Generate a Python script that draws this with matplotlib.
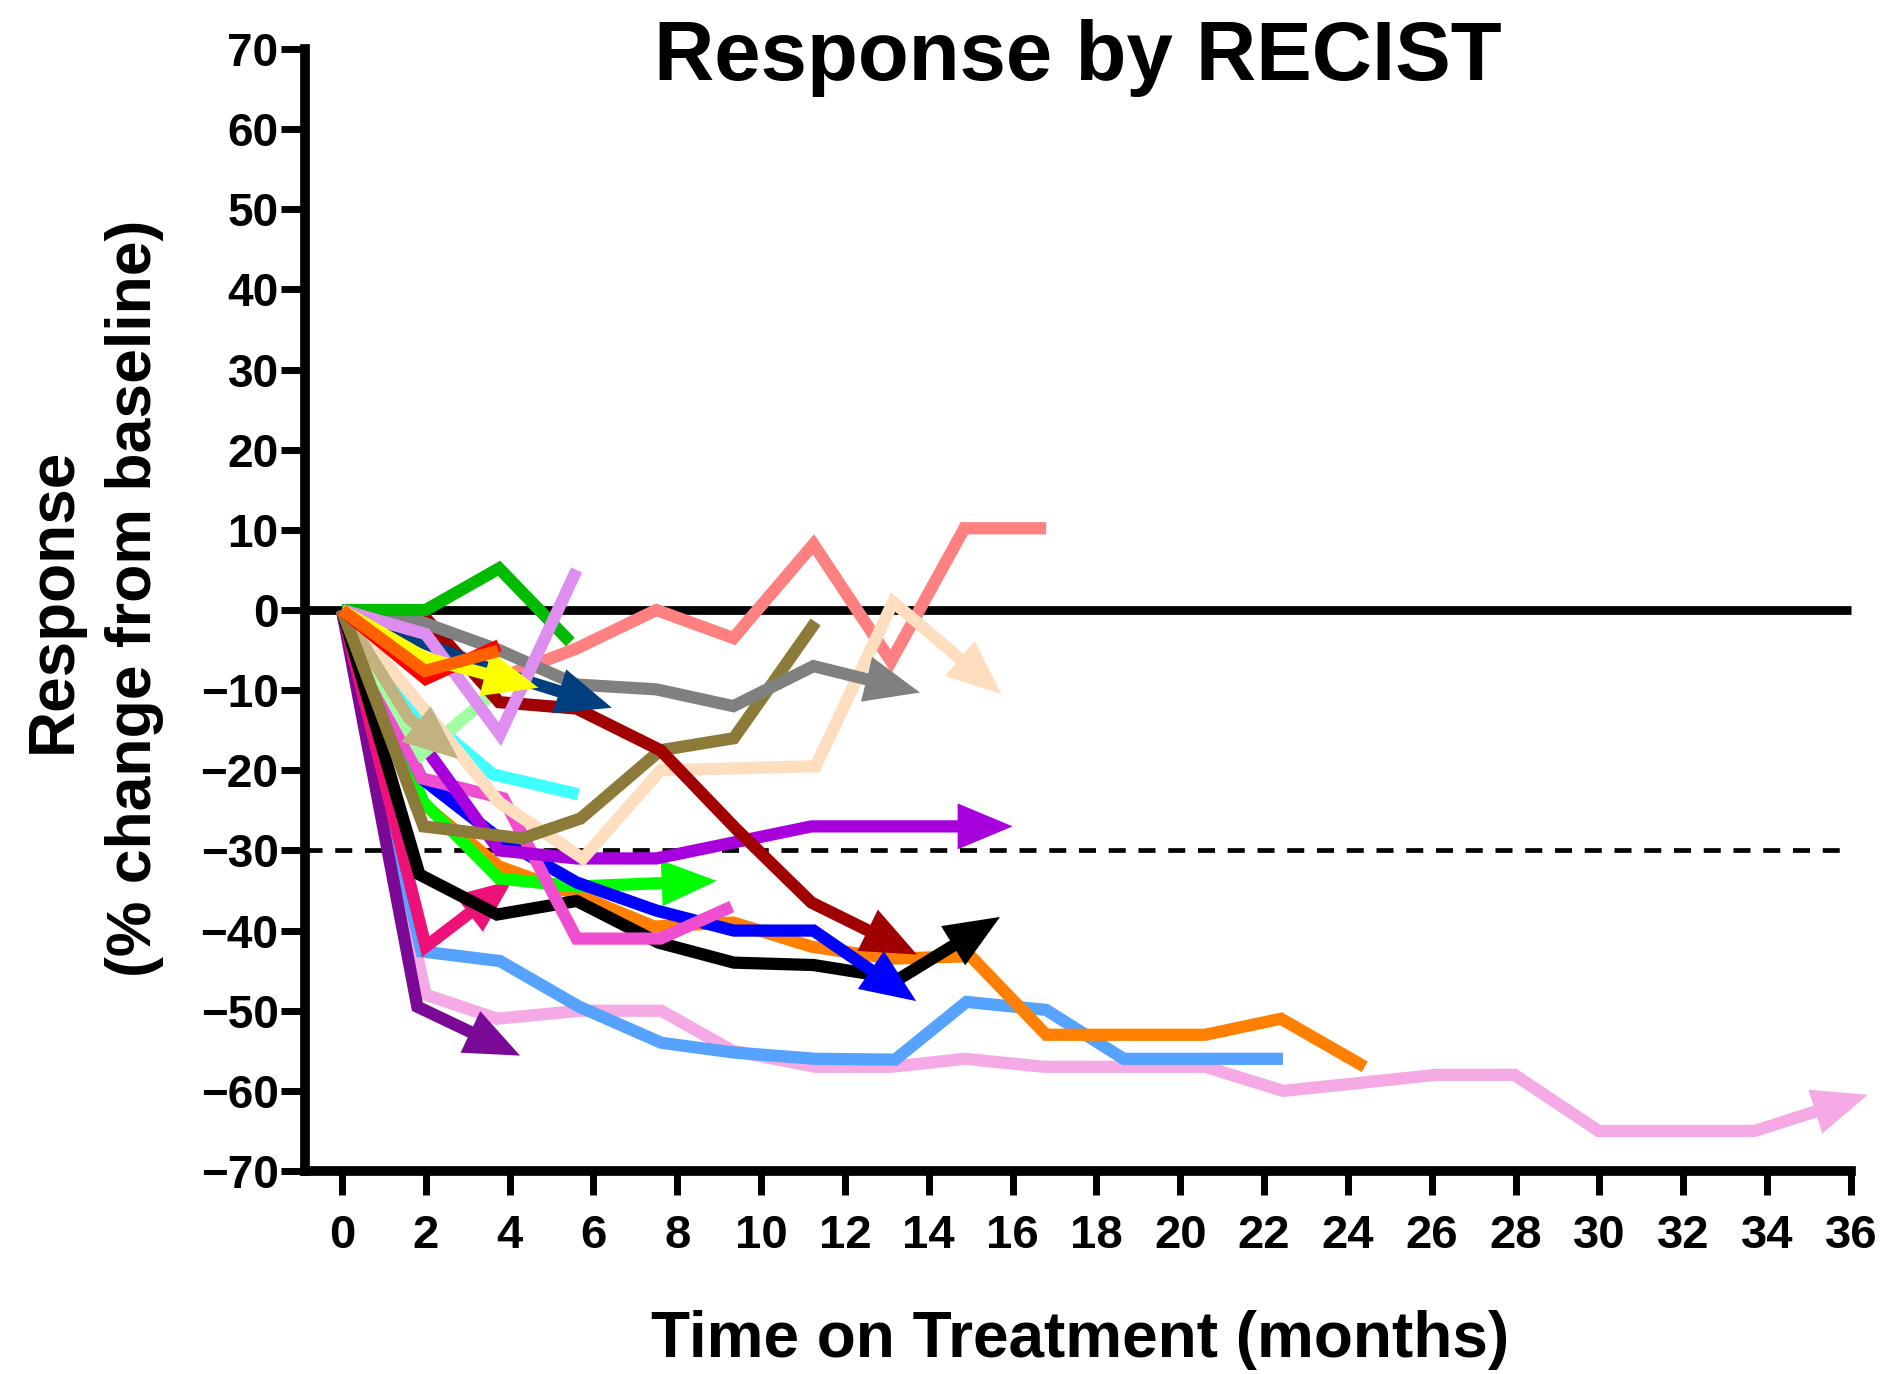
import matplotlib
matplotlib.use("Agg")
import matplotlib.pyplot as plt
from matplotlib.patches import Polygon
from matplotlib import font_manager
import numpy as np

# ---- per-patient data: months on treatment and % change from baseline ----
salmon_m = [0, 1.9, 3.75, 5.6, 7.5, 9.34, 11.25, 13.1, 14.85, 16.8]
salmon_v = [0, -3, -8.5, -4.8, 0, -3.5, 8.2, -6.4, 10.2, 10.2]

green_m = [0, 2.0, 3.75, 5.45]
green_v = [0, 0, 5.2, -4]

lightpink_m = [0, 2.0, 3.7, 5.68, 7.62, 9.32, 11.3, 13.1, 14.87, 16.75, 20.6,
               22.45, 24.3, 26.1, 27.97, 29.98, 33.7, 36.4]
lightpink_v = [0, -48, -51, -50, -50, -55, -57, -57, -56, -57, -57,
               -60, -59, -58, -58, -65, -65, -60.5]

lightblue_m = [0, 1.9, 3.77, 5.66, 7.62, 9.32, 11.3, 13.2, 14.9, 16.8, 18.65, 22.45]
lightblue_v = [0, -42.6, -43.8, -49.5, -54, -55.2, -56, -56.1, -48.9, -49.9, -56, -56]

darkpurple_m = [0, 1.8, 4.25]
darkpurple_v = [0, -49.5, -55.6]

deeppink_m = [0, 2.0, 4.07]
deeppink_v = [0, -42, -33.7]

orange_m = [0, 1.9, 3.75, 5.6, 7.45, 9.34, 11.2, 13.1, 15.0, 16.8, 20.6, 22.4, 24.4]
orange_v = [0, -24, -32, -35.5, -39.5, -39, -42, -43.5, -43.2, -53, -53, -51, -57]

black_m = [0, 1.85, 3.7, 5.6, 7.55, 9.35, 11.25, 13.3, 15.7]
black_v = [0, -33, -38, -36.3, -41.5, -44, -44.3, -46, -38.3]

brightgreen_m = [0, 1.95, 3.75, 5.6, 8.94]
brightgreen_v = [0, -24, -33.5, -34.5, -33.8]

magenta_m = [0, 1.9, 3.85, 5.6, 7.6, 9.3]
magenta_v = [0, -21, -23.5, -41, -41, -37]

blue_m = [0, 1.9, 3.75, 5.6, 7.5, 9.35, 11.25, 13.7]
blue_v = [0, -21, -28.5, -34, -37.5, -40, -40, -48.8]

purple_m = [0, 2.1, 3.75, 5.6, 7.5, 11.2, 16.0]
purple_v = [0, -18, -30, -31, -31, -27, -27]

cyan_m = [0, 1.9, 3.6, 5.64]
cyan_v = [0, -13, -20.5, -23]

lightgreen_m = [0, 1.9, 3.7]
lightgreen_v = [0, -18, -10]

tan_m = [0, 1.6, 2.78]
tan_v = [0, -13.5, -18.6]

peach_m = [0, 1.9, 3.75, 5.75, 7.6, 11.3, 13.15, 15.74]
peach_v = [0, -12, -24, -31, -20, -19.5, 1, -10.5]

olive_m = [0, 1.95, 4.3, 5.7, 7.6, 9.35, 11.3]
olive_v = [0, -27, -28.5, -26, -17.5, -16, -1.5]

darkred_m = [0, 2.0, 3.75, 5.6, 7.6, 9.4, 11.2, 13.72]
darkred_v = [0, -1, -11.5, -12.3, -17.5, -27.3, -36.5, -43]

gray_m = [0, 1.9, 3.75, 5.6, 7.5, 9.34, 11.25, 13.79]
gray_v = [0, -1.5, -5, -9.3, -9.9, -12, -7, -10.3]

navy_m = [0, 1.9, 3.75, 6.44]
navy_v = [0, -4, -7.8, -12.2]

violet_m = [0, 2.0, 3.77, 5.6]
violet_v = [0, -3, -15.5, 5]

yellow_m = [0, 2.0, 4.69]
yellow_v = [0, -6, -9.7]

red_m = [0, 2.0, 3.75]
red_v = [0, -8.6, -4.4]

orangered_m = [0, 1.98, 3.73]
orangered_v = [0, -7.6, -5.1]

x_ticks = list(range(0, 37, 2))
y_ticks = list(range(-70, 71, 10))
pr_threshold = -30

# (months, values, colour, still on treatment -> arrow)
patients = [
    (salmon_m, salmon_v, "#FF8080", False),
    (lightpink_m, lightpink_v, "#F5AAE6", True),
    (lightblue_m, lightblue_v, "#55A2FF", False),
    (darkpurple_m, darkpurple_v, "#7A0A96", True),
    (deeppink_m, deeppink_v, "#EE1177", True),
    (orange_m, orange_v, "#FF8000", False),
    (black_m, black_v, "#000000", True),
    (brightgreen_m, brightgreen_v, "#00FF00", True),
    (blue_m, blue_v, "#0000FF", True),
    (magenta_m, magenta_v, "#EE4ECF", False),
    (cyan_m, cyan_v, "#40FFFF", False),
    (purple_m, purple_v, "#A800DD", True),
    (lightgreen_m, lightgreen_v, "#A0FFA0", False),
    (peach_m, peach_v, "#FFDEC0", True),
    (tan_m, tan_v, "#C2B280", True),
    (olive_m, olive_v, "#8C7A38", False),
    (darkred_m, darkred_v, "#A00000", True),
    (gray_m, gray_v, "#808080", True),
    (green_m, green_v, "#00BB00", False),
    (navy_m, navy_v, "#003F7F", True),
    (violet_m, violet_v, "#DD8EF0", False),
    (red_m, red_v, "#FF0000", False),
    (yellow_m, yellow_v, "#FFFF00", True),
    (orangered_m, orangered_v, "#FF6000", False),
]

# ---- fonts ----
def have_font(name):
    try:
        font_manager.findfont(name, fallback_to_default=False)
        return True
    except Exception:
        return False

MAIN = "Liberation Sans" if have_font("Liberation Sans") else "DejaVu Sans"
plt.rcParams["font.family"] = [MAIN, "DejaVu Sans"]

W, H, DPI = 1891, 1374, 100
fig = plt.figure(figsize=(W / DPI, H / DPI), dpi=DPI)

# plot frame in pixels
left_px, right_px = 305, 1851
bottom_px, top_px = 1171, 49
ax = fig.add_axes([left_px / W, 1 - bottom_px / H,
                   (right_px - left_px) / W, (bottom_px - top_px) / H])
ax.set_xlim(-0.88, 36)
ax.set_ylim(-70, 70)

for s in ("top", "right"):
    ax.spines[s].set_visible(False)
for s in ("left", "bottom"):
    ax.spines[s].set_linewidth(7)
    ax.spines[s].set_capstyle("projecting")


def fmt(t):
    return str(t).replace("-", "\u2212")


ax.set_xticks(x_ticks)
ax.set_xticklabels([fmt(t) for t in x_ticks])
ax.set_yticks(y_ticks)
ax.set_yticklabels([fmt(t) for t in y_ticks])
ax.tick_params(axis="both", direction="out", length=17, width=5, color="black")
ax.tick_params(axis="y", pad=2)
ax.tick_params(axis="x", pad=14)
for lab in ax.get_yticklabels():
    lab.set_fontsize(33)
    lab.set_fontweight("bold")
for lab in ax.get_xticklabels():
    lab.set_fontsize(34)
    lab.set_fontweight("bold")

# reference lines: baseline and partial-response threshold
ax.plot([-0.88, 36], [0, 0], color="black", lw=6.3, zorder=1,
        solid_capstyle="butt", clip_on=False)
ax.plot([-0.88, 36], [pr_threshold, pr_threshold], color="black", lw=3.4,
        linestyle=(0, (3.6, 2.7)), zorder=1, clip_on=False)

HEAD_LEN = 55.0   # px
HEAD_HALF = 23.0  # px
LW = 8.8

fig.canvas.draw()
to_px = ax.transData
to_data = ax.transData.inverted()

for z, (m, v, col, ongoing) in enumerate(patients):
    pts = to_px.transform(np.column_stack([m, v]))
    zz = 2 + z * 0.01
    if ongoing:
        tip, prev = pts[-1], pts[-2]
        d = tip - prev
        d = d / np.hypot(*d)
        n = np.array([-d[1], d[0]])
        base = tip - d * HEAD_LEN
        tri = np.array([tip, base + n * HEAD_HALF, base - n * HEAD_HALF])
        ax.add_patch(Polygon(to_data.transform(tri), closed=True, fc=col,
                             ec="none", zorder=zz, clip_on=False))
        pts = pts.copy()
        pts[-1] = base + d * 3
    dpts = to_data.transform(pts)
    ax.plot(dpts[:, 0], dpts[:, 1], color=col, lw=LW, zorder=zz,
            solid_joinstyle="miter", solid_capstyle="butt", clip_on=False)

# titles
fig.text(1078 / W, 1 - 80 / H, "Response by RECIST", ha="center",
         va="baseline", fontsize=60, fontweight="bold")
fig.text(1080 / W, 1 - 1357 / H, "Time on Treatment (months)", ha="center",
         va="baseline", fontsize=46, fontweight="bold")
fig.text(54 / W, 1 - 600 / H, "Response", rotation=90, ha="center",
         va="center", fontsize=46, fontweight="bold")
fig.text(135 / W, 1 - 598 / H, "(% change from baseline)", rotation=90,
         ha="center", va="center", fontsize=45, fontweight="bold")

fig.savefig("out.png", dpi=DPI)
